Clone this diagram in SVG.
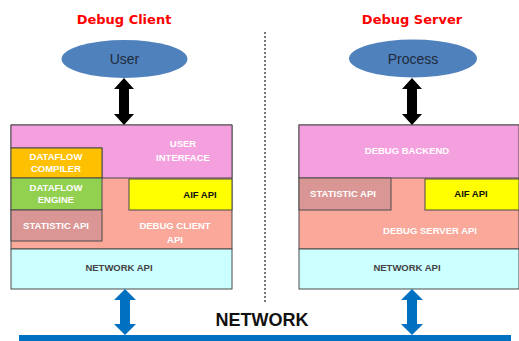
<svg xmlns="http://www.w3.org/2000/svg" width="519" height="341" viewBox="0 0 519 341">
<defs>
<style>
.box{stroke:#4a4a4a;stroke-width:1}
.w{font-family:"Liberation Sans",Arial,sans-serif;font-size:9.5px;font-weight:bold;fill:#fff;text-anchor:middle}
.k{font-family:"Liberation Sans",Arial,sans-serif;font-size:9.5px;font-weight:bold;fill:#111;text-anchor:middle}
.n{font-family:"Liberation Sans",Arial,sans-serif;font-size:9.5px;font-weight:bold;fill:#444;text-anchor:middle}
.t{font-family:"DejaVu Sans",Verdana,sans-serif;font-size:13px;font-weight:bold;fill:#f00;text-anchor:middle}
.e{fill:#4f81bd}
.el{font-family:"Liberation Sans",Arial,sans-serif;font-size:14px;fill:#1f2a3a;text-anchor:middle}
</style>
</defs>
<rect width="519" height="341" fill="#fff"/>
<g id="title-client"><text class="t" x="124" y="24">Debug Client</text></g>
<g id="title-server"><text class="t" x="412" y="24">Debug Server</text></g>
<g id="user"><ellipse class="e" cx="124.5" cy="59" rx="63" ry="19"/><text class="el" x="124.5" y="64">User</text></g>
<g id="process"><ellipse class="e" cx="413" cy="58.5" rx="64" ry="19"/><text class="el" x="413" y="63.5">Process</text></g>
<g id="divider"><line x1="265" y1="32" x2="265" y2="302" stroke="#777" stroke-width="2" stroke-dasharray="2,2"/></g>
<g id="client">
<rect class="box" x="11" y="125" width="221" height="124" fill="#faa89a"/>
<path class="box" d="M11 125H232V178H102V148H11Z" fill="#f5a0de"/>
<text class="w" x="183" y="147">USER</text><text class="w" x="183" y="161">INTERFACE</text>
<rect class="box" x="11" y="148" width="91" height="30" fill="#ffc000"/>
<text class="w" x="56" y="160">DATAFLOW</text><text class="w" x="56" y="172">COMPILER</text>
<rect class="box" x="11" y="178" width="91" height="32" fill="#92d050"/>
<text class="w" x="56" y="191">DATAFLOW</text><text class="w" x="56" y="203">ENGINE</text>
<rect class="box" x="11" y="210" width="91" height="31" fill="#d99694"/>
<text class="w" x="56" y="229">STATISTIC API</text>
<rect class="box" x="129" y="179" width="103" height="31" fill="#ffff00"/>
<text class="k" x="200" y="198">AIF API</text>
<text class="w" x="175" y="229">DEBUG CLIENT</text><text class="w" x="175" y="243">API</text>
<rect class="box" x="11" y="249" width="221" height="40" fill="#ccffff"/>
<text class="n" x="119" y="271">NETWORK API</text>
</g>
<g id="server">
<rect class="box" x="299" y="125" width="220" height="124" fill="#faa89a"/>
<rect class="box" x="299" y="125" width="220" height="53" fill="#f5a0de"/>
<text class="w" x="407" y="154">DEBUG BACKEND</text>
<rect class="box" x="299" y="178" width="92" height="32" fill="#d99694"/>
<text class="w" x="343" y="197">STATISTIC API</text>
<rect class="box" x="425" y="179" width="94" height="31" fill="#ffff00"/>
<text class="k" x="471" y="197">AIF API</text>
<text class="w" x="430" y="234">DEBUG SERVER API</text>
<rect class="box" x="299" y="249" width="220" height="40" fill="#ccffff"/>
<text class="n" x="407" y="271">NETWORK API</text>
</g>
<g id="network"><rect x="19" y="335" width="492" height="6" fill="#0070c0"/><text x="262" y="326" font-family="'Liberation Sans',Arial,sans-serif" font-size="18" font-weight="bold" fill="#111" text-anchor="middle">NETWORK</text></g>
<g id="connectors">
<path d="M124 78L134 89H129V114H134L124 125L114 114H119V89H114Z" fill="#000"/>
<path d="M412 78L422 89H417V114H422L412 125L402 114H407V89H402Z" fill="#000"/>
<path d="M125 289L136 300H130V324H136L125 335L114 324H120V300H114Z" fill="#0070c0"/>
<path d="M412 289L423 300H417V324H423L412 335L401 324H407V300H401Z" fill="#0070c0"/>
</g>
</svg>
